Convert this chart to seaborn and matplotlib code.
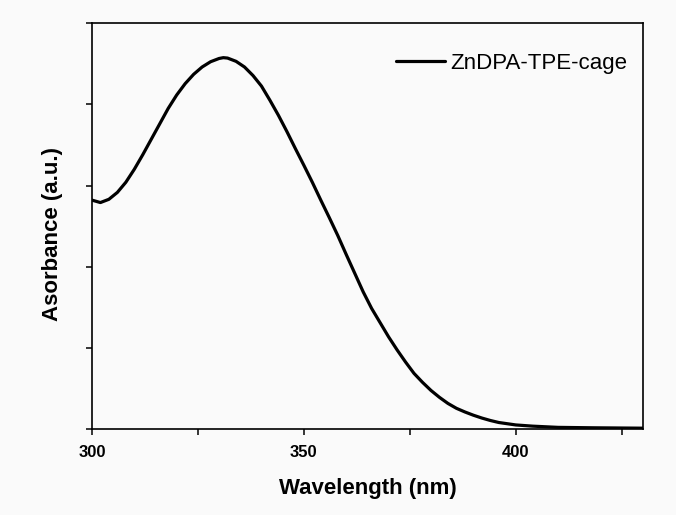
import numpy as np
import pandas as pd
import matplotlib
matplotlib.use("Agg")
import matplotlib.pyplot as plt
from matplotlib.ticker import MultipleLocator, NullFormatter
import seaborn as sns

# ================================
# Data
# ================================
wavelength = [300, 302, 304, 306, 308, 310, 312, 314, 316, 318, 320, 322,
              324, 326, 328, 330, 331, 332, 334, 336, 338, 340, 342, 344,
              346, 348, 350, 352, 354, 356, 358, 360, 362, 364, 366, 368,
              370, 372, 374, 376, 378, 380, 382, 384, 386, 388, 390, 392,
              394, 396, 398, 400, 404, 410, 418, 430]
absorbance = [0.564, 0.558, 0.566, 0.583, 0.608, 0.640, 0.676, 0.714, 0.752,
              0.790, 0.823, 0.851, 0.874, 0.892, 0.905, 0.913, 0.915, 0.914,
              0.906, 0.892, 0.871, 0.845, 0.810, 0.773, 0.733, 0.691, 0.650,
              0.608, 0.564, 0.521, 0.477, 0.430, 0.384, 0.338, 0.297, 0.262,
              0.227, 0.195, 0.165, 0.137, 0.115, 0.095, 0.078, 0.063, 0.051,
              0.042, 0.034, 0.027, 0.021, 0.016, 0.013, 0.010, 0.007, 0.004,
              0.003, 0.002]
series_label = "ZnDPA-TPE-cage"

df = pd.DataFrame({"Wavelength": wavelength, "Absorbance": absorbance})

# ================================
# Plot
# ================================
sns.set_style("ticks")
plt.rcParams["font.family"] = ["Liberation Sans", "DejaVu Sans"]
plt.rcParams["text.color"] = "black"
plt.rcParams["axes.labelcolor"] = "black"
plt.rcParams["xtick.color"] = "black"
plt.rcParams["ytick.color"] = "black"

fig = plt.figure(figsize=(6.76, 5.15), dpi=100, facecolor="#fafafa")
ax = fig.add_axes([0.136, 0.167, 0.815, 0.788])
ax.set_facecolor("#fafafa")

sns.lineplot(data=df, x="Wavelength", y="Absorbance", ax=ax,
             color="black", linewidth=2.3, label=series_label)

ax.set_xlim(300, 430)
ax.set_ylim(0, 1.0)
ax.xaxis.set_major_locator(MultipleLocator(50))
ax.xaxis.set_minor_locator(MultipleLocator(25))
ax.yaxis.set_major_locator(MultipleLocator(0.2))
ax.yaxis.set_major_formatter(NullFormatter())

for side in ["top", "right", "bottom", "left"]:
    ax.spines[side].set_visible(True)
    ax.spines[side].set_linewidth(1.2)
    ax.spines[side].set_color("black")

ax.tick_params(axis="both", which="both", direction="out", length=4.5,
               width=1.1, color="black")
ax.tick_params(axis="x", which="major", labelsize=12, pad=7)
for lbl in ax.get_xticklabels():
    lbl.set_fontweight("bold")

ax.set_xlabel("Wavelength (nm)", fontsize=16, fontweight="bold", labelpad=13)
ax.set_ylabel("Asorbance (a.u.)", fontsize=16, fontweight="bold")
ax.yaxis.set_label_coords(-0.052, 0.48)

ax.legend(loc="upper right", bbox_to_anchor=(0.987, 0.948), frameon=False,
          fontsize=16, handlelength=2.2, handletextpad=0.2, borderaxespad=0)

fig.savefig("out.png", dpi=100, facecolor=fig.get_facecolor())
